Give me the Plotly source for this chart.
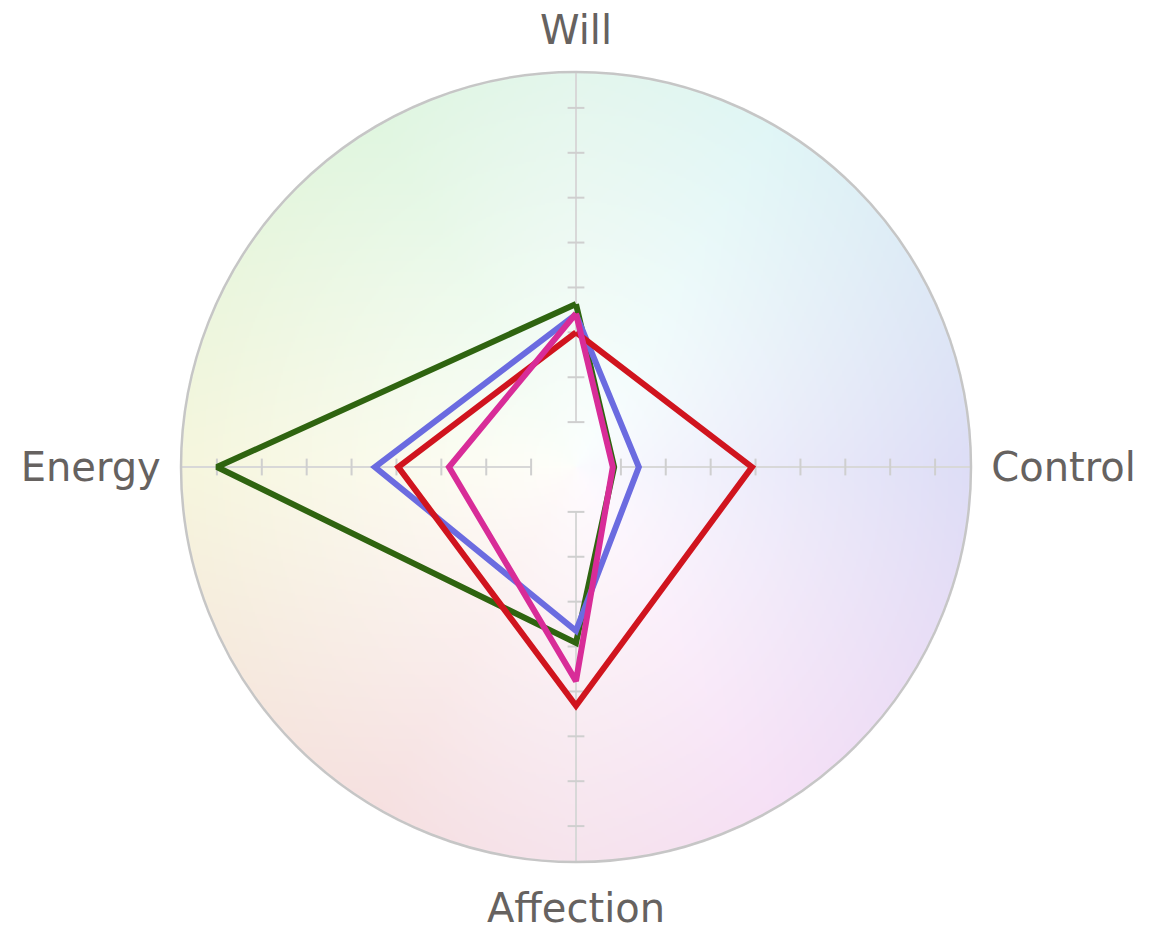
import base64, struct, zlib
import numpy as np
import plotly.graph_objects as go

# ---------------- data ----------------
categories = ["Will", "Control", "Affection", "Energy"]
green_vals = [3.63, 0.85, 3.92, 8.0]
blue_vals = [3.4, 1.4, 3.65, 4.48]
red_vals = [3.0, 3.92, 5.32, 3.96]
magenta_vals = [3.42, 0.82, 4.77, 2.83]
series_names = ["Green", "Blue", "Red", "Magenta"]
series_colors = ["#2f6410", "#6b6be0", "#d0141e", "#d82c98"]
tick_values = [1, 2, 3, 4, 5, 6, 7, 8]
r_max = 8.8

# ---------------- background hue wheel (decoration) ----------------
N = 400
yy, xx = np.mgrid[0:N, 0:N].astype(float)
c = (N - 1) / 2.0
dx = xx - c
dy = c - yy
rr = np.sqrt(dx ** 2 + dy ** 2)
R = N / 2.0
t = np.clip(rr / R, 0, 1)
theta = np.degrees(np.arctan2(dy, dx))
hue = np.mod(240 - theta, 360) / 60.0
i = np.floor(hue).astype(int) % 6
f = hue - np.floor(hue)
q = 1 - f
tt = f
one = np.ones_like(f)
zero = np.zeros_like(f)
rch = np.choose(i, [one, q, zero, zero, tt, one])
gch = np.choose(i, [tt, one, one, q, zero, zero])
bch = np.choose(i, [zero, zero, tt, one, one, q])
# yellow/blue sectors a bit stronger than the others
w = 0.75 + 0.25 * (np.abs(np.cos(np.radians(theta))))
a = (0.015 + 0.085 * t) * w
shade = 1.0 - 0.035 * t
Rc = (255 * ((1 - a) + a * rch) * shade)
Gc = (255 * ((1 - a) + a * gch) * shade)
Bc = (255 * ((1 - a) + a * bch) * shade)
alpha = np.clip(R - rr + 0.5, 0, 1) * 255
img = np.stack([Rc, Gc, Bc, alpha], axis=-1).clip(0, 255).astype(np.uint8)

def png_bytes(arr):
    h, w_, _ = arr.shape
    raw = b"".join(b"\x00" + arr[y].tobytes() for y in range(h))
    def chunk(tag, data):
        return struct.pack(">I", len(data)) + tag + data + struct.pack(">I", zlib.crc32(tag + data) & 0xffffffff)
    return (b"\x89PNG\r\n\x1a\n" + chunk(b"IHDR", struct.pack(">IIBBBBB", w_, h, 8, 6, 0, 0, 0))
            + chunk(b"IDAT", zlib.compress(raw, 9)) + chunk(b"IEND", b""))

bg_src = "data:image/png;base64," + base64.b64encode(png_bytes(img)).decode()

# ---------------- figure ----------------
fig = go.Figure()

# axis spokes (from first tick outward)
spoke_r, spoke_t = [], []
for cat in categories:
    spoke_r += [tick_values[0], r_max, None]
    spoke_t += [cat, cat, None]
fig.add_trace(go.Scatterpolar(r=spoke_r, theta=spoke_t, mode="lines",
                              line=dict(color="#d8d8d8", width=2),
                              hoverinfo="skip", showlegend=False, connectgaps=False))

# tick marks on every spoke
for cat in categories:
    sym = "line-ew" if cat in ("Will", "Affection") else "line-ns"
    fig.add_trace(go.Scatterpolar(r=tick_values, theta=[cat] * len(tick_values), mode="markers",
                                  marker=dict(symbol=sym, size=12,
                                              line=dict(color="#cfcfcf", width=2)),
                                  hoverinfo="skip", showlegend=False))

for name, vals, col in zip(series_names,
                           [green_vals, blue_vals, red_vals, magenta_vals],
                           series_colors):
    fig.add_trace(go.Scatterpolar(r=vals + vals[:1], theta=categories + categories[:1],
                                  mode="lines", name=name,
                                  line=dict(color=col, width=6),
                                  showlegend=False))

fig.add_layout_image(dict(source=bg_src, xref="paper", yref="paper", x=0, y=1,
                          sizex=1, sizey=1, xanchor="left", yanchor="top",
                          sizing="stretch", layer="below"))

fig.update_layout(
    width=1149, height=936,
    margin=dict(l=173, r=186, t=64, b=82),
    paper_bgcolor="white",
    font=dict(family="DejaVu Sans", color="#666260"),
    polar=dict(
        bgcolor="rgba(0,0,0,0)",
        domain=dict(x=[0, 1], y=[0, 1]),
        radialaxis=dict(range=[0, r_max], showline=False, showgrid=False,
                        showticklabels=False, ticks=""),
        angularaxis=dict(type="category", categoryarray=categories, categoryorder="array",
                         rotation=90, direction="clockwise",
                         showline=True, linecolor="#c6c6c6", linewidth=2.5,
                         showgrid=False, ticks="outside", ticklen=11,
                         tickcolor="rgba(0,0,0,0)",
                         tickfont=dict(size=40, family="DejaVu Sans", color="#666260")),
    ),
)

fig.write_html("out.html")
